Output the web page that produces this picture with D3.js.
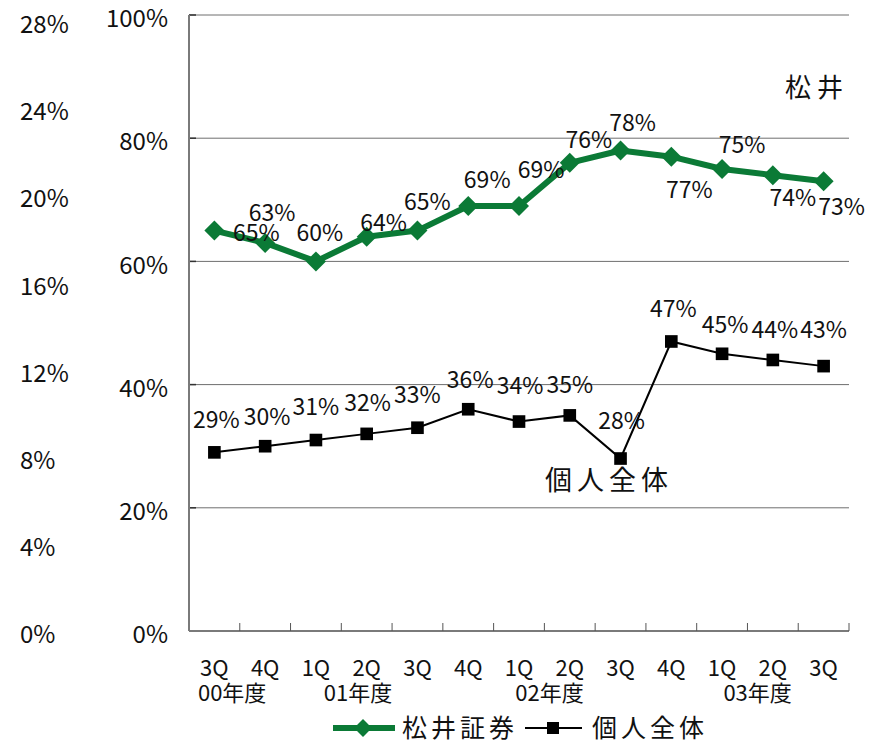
<!DOCTYPE html>
<html>
<head>
<meta charset="utf-8">
<script src="https://cdn.jsdelivr.net/npm/d3@7"></script>
<style>
  html, body { margin: 0; padding: 0; background: #fff; }
  svg { display: block; }
  text { font-family: "Noto Sans CJK JP", "Noto Sans", sans-serif; fill: #111; }
</style>
</head>
<body>
<svg id="chart" width="872" height="747"></svg>
<script>
// Quarter categories and fiscal-year captions
const quarters = ["3Q", "4Q", "1Q", "2Q", "3Q", "4Q", "1Q", "2Q", "3Q", "4Q", "1Q", "2Q", "3Q"];
const fiscalYears = ["00年度", "01年度", "02年度", "03年度"];

// Series (percent)
const seriesNames = ["松井証券", "個人全体"];
const matsuiValues = [65, 63, 60, 64, 65, 69, 69, 76, 78, 77, 75, 74, 73];
const overallValues = [29, 30, 31, 32, 33, 36, 34, 35, 28, 47, 45, 44, 43];

// Axis ticks
const mainTicks = [0, 20, 40, 60, 80, 100];
const outerTicks = [0, 4, 8, 12, 16, 20, 24, 28];

// Layout helpers: where each fiscal-year caption sits (in category units)
const fiscalYearAt = [0.35, 2.83, 6.6, 10.7];
// Data label nudges [dx, dy] relative to each point
const matsuiLabelNudge = [[42, 2], [7, -30], [4, -28], [17, -14], [10, -29], [19, -26], [22, -36],
  [19, -23], [12, -28], [18, 33], [20, -24], [20, 23], [18, 26]];
const overallLabelNudge = [[2, -32], [2, -29], [0, -33], [1, -31], [0, -33], [2, -29], [1, -36],
  [0, -30], [1, -38], [2, -33], [3, -29], [2, -30], [0, -36]];

const green = "#0b7a36";
const svg = d3.select("#chart");

const plot = { left: 189, right: 849, top: 15, bottom: 631 };

const x = d3.scaleBand().domain(d3.range(quarters.length)).range([plot.left, plot.right]).padding(0);
const cx = i => x(i) + x.bandwidth() / 2;
const y = d3.scaleLinear().domain([0, 100]).range([plot.bottom, plot.top]);
const yOuter = d3.scaleLinear().domain([0, 28]).range([plot.bottom, 21]);

// Gridlines
svg.append("g")
  .selectAll("line")
  .data(mainTicks.filter(t => t > 0))
  .join("line")
  .attr("x1", plot.left).attr("x2", plot.right)
  .attr("y1", d => y(d)).attr("y2", d => y(d))
  .attr("stroke", "#6e6e6e").attr("stroke-width", 1);

// Outer percentage axis (labels only)
const outerAxis = svg.append("g")
  .attr("transform", "translate(20,0)")
  .call(d3.axisRight(yOuter).tickValues(outerTicks).tickSize(0).tickPadding(0)
    .tickFormat(d => d + "%"));
outerAxis.select(".domain").remove();
outerAxis.selectAll("text")
  .attr("x", 0).attr("dy", "0.32em").attr("transform", "translate(0,4)")
  .style("font-size", "24px").attr("text-anchor", "start").attr("fill", "#111");

// Main percentage axis
const mainAxis = svg.append("g")
  .attr("transform", `translate(${plot.left},0)`)
  .call(d3.axisLeft(y).tickValues(mainTicks).tickSize(0).tickPadding(21)
    .tickFormat(d => d + "%"));
mainAxis.select(".domain").remove();
mainAxis.selectAll("text")
  .attr("transform", "translate(0,4)")
  .style("font-size", "24px").attr("fill", "#111");

// Small inward ticks on the main axis
svg.append("g")
  .selectAll("line")
  .data(mainTicks)
  .join("line")
  .attr("x1", plot.left).attr("x2", plot.left + 7)
  .attr("y1", d => y(d)).attr("y2", d => y(d))
  .attr("stroke", "#333").attr("stroke-width", 1.5);

// Axis lines
svg.append("line")
  .attr("x1", plot.left).attr("x2", plot.left)
  .attr("y1", plot.top).attr("y2", plot.bottom)
  .attr("stroke", "#7a7a7a").attr("stroke-width", 2);
svg.append("line")
  .attr("x1", plot.left).attr("x2", plot.right)
  .attr("y1", plot.bottom).attr("y2", plot.bottom)
  .attr("stroke", "#7a7a7a").attr("stroke-width", 2);

// Category boundary ticks
svg.append("g")
  .selectAll("line")
  .data(d3.range(1, quarters.length + 1))
  .join("line")
  .attr("x1", i => x(i - 1) + x.bandwidth()).attr("x2", i => x(i - 1) + x.bandwidth())
  .attr("y1", plot.bottom).attr("y2", plot.bottom - 8)
  .attr("stroke", "#555").attr("stroke-width", 1);

// Quarter labels
svg.append("g")
  .selectAll("text")
  .data(quarters)
  .join("text")
  .attr("x", (d, i) => cx(i))
  .attr("y", 668)
  .attr("dy", "0.35em")
  .attr("text-anchor", "middle")
  .style("font-size", "22px")
  .text(d => d);

// Fiscal-year labels
svg.append("g")
  .selectAll("text")
  .data(fiscalYears)
  .join("text")
  .attr("x", (d, i) => cx(0) + fiscalYearAt[i] * x.bandwidth())
  .attr("y", 693)
  .attr("dy", "0.35em")
  .attr("text-anchor", "middle")
  .style("font-size", "22px")
  .text(d => d);

// Lines
const line = d3.line().x((d, i) => cx(i)).y(d => y(d));

svg.append("path")
  .datum(overallValues)
  .attr("d", line)
  .attr("fill", "none").attr("stroke", "#000").attr("stroke-width", 2);

svg.append("path")
  .datum(matsuiValues)
  .attr("d", line)
  .attr("fill", "none").attr("stroke", green).attr("stroke-width", 6)
  .attr("stroke-linejoin", "round");

// Markers
const diamond = d3.symbol().type(d3.symbolSquare).size(200);
const square = d3.symbol().type(d3.symbolSquare).size(160);

svg.append("g")
  .selectAll("path")
  .data(overallValues)
  .join("path")
  .attr("d", square)
  .attr("transform", (d, i) => `translate(${cx(i)},${y(d)})`)
  .attr("fill", "#000");

svg.append("g")
  .selectAll("path")
  .data(matsuiValues)
  .join("path")
  .attr("d", diamond)
  .attr("transform", (d, i) => `translate(${cx(i)},${y(d)}) rotate(45)`)
  .attr("fill", green);

// Data labels
svg.append("g")
  .selectAll("text")
  .data(matsuiValues)
  .join("text")
  .attr("x", (d, i) => cx(i) + matsuiLabelNudge[i][0])
  .attr("y", (d, i) => y(d) + matsuiLabelNudge[i][1])
  .attr("dy", "0.35em")
  .attr("text-anchor", "middle")
  .style("font-size", "23px")
  .text(d => d + "%");

svg.append("g")
  .selectAll("text")
  .data(overallValues)
  .join("text")
  .attr("x", (d, i) => cx(i) + overallLabelNudge[i][0])
  .attr("y", (d, i) => y(d) + overallLabelNudge[i][1])
  .attr("dy", "0.35em")
  .attr("text-anchor", "middle")
  .style("font-size", "23px")
  .text(d => d + "%");

// Series captions inside the plot
svg.append("text")
  .attr("x", 785).attr("y", 88).attr("dy", "0.36em")
  .style("font-size", "26px").style("letter-spacing", "6px")
  .text("松井");
svg.append("text")
  .attr("x", 545).attr("y", 480).attr("dy", "0.36em")
  .style("font-size", "27px").style("letter-spacing", "5px")
  .text("個人全体");

// Legend
const legend = svg.append("g").attr("transform", "translate(0,728)");
legend.append("line").attr("x1", 333).attr("x2", 395).attr("y1", 0).attr("y2", 0)
  .attr("stroke", green).attr("stroke-width", 6);
legend.append("path").attr("d", d3.symbol().type(d3.symbolSquare).size(160))
  .attr("transform", "translate(363,0) rotate(45)").attr("fill", green);
legend.append("text").attr("x", 402).attr("y", 0).attr("dy", "0.36em")
  .style("font-size", "25px").style("letter-spacing", "4px").text(seriesNames[0]);
legend.append("line").attr("x1", 525).attr("x2", 582).attr("y1", 0).attr("y2", 0)
  .attr("stroke", "#000").attr("stroke-width", 2);
legend.append("path").attr("d", d3.symbol().type(d3.symbolSquare).size(144))
  .attr("transform", "translate(553,0)").attr("fill", "#000");
legend.append("text").attr("x", 592).attr("y", 0).attr("dy", "0.36em")
  .style("font-size", "25px").style("letter-spacing", "4px").text(seriesNames[1]);
</script>
</body>
</html>
